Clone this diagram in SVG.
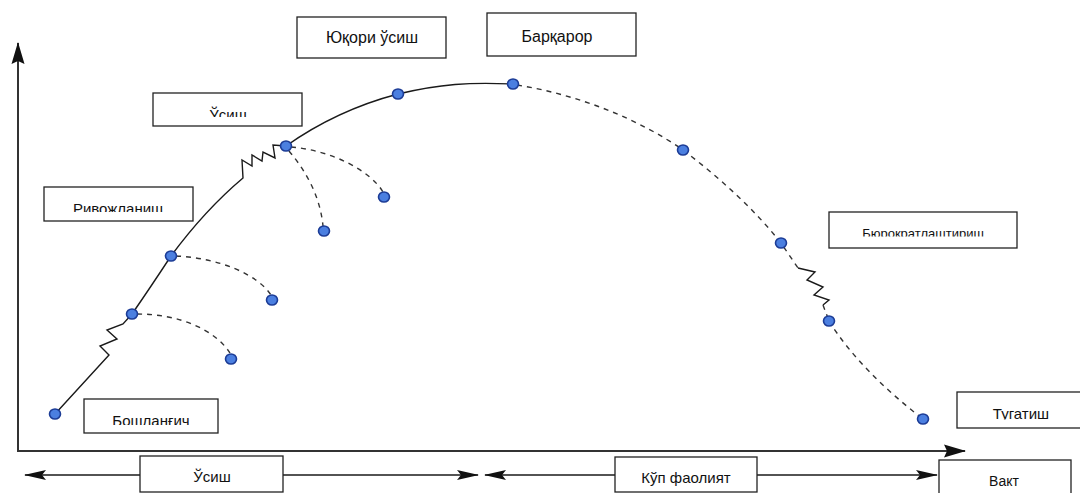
<svg xmlns="http://www.w3.org/2000/svg" width="1080" height="493" viewBox="0 0 1080 493">
<style>
.box{fill:#fff;stroke:#222;stroke-width:1.3}
.t{font-family:"Liberation Sans",Arial,sans-serif;font-size:15px;fill:#111;text-anchor:middle}
.axis{stroke:#333;stroke-width:2;fill:none}
.sol{stroke:#1a1a1a;stroke-width:1.4;fill:none}
.dash{stroke:#333;stroke-width:1.4;fill:none;stroke-dasharray:5 5}
.dot{fill:#4b7fe0;stroke:#1c3c96;stroke-width:1.6}
</style>
<defs>
<marker id="ah" viewBox="0 0 22 12" refX="21" refY="6" markerWidth="22" markerHeight="12" markerUnits="userSpaceOnUse" orient="auto-start-reverse">
<path d="M0,1 L22,6 L0,11 L4,6 Z" fill="#111"/>
</marker>
<marker id="ahx" viewBox="0 0 22 14" refX="21" refY="7" markerWidth="22" markerHeight="14" markerUnits="userSpaceOnUse" orient="auto">
<path d="M0,0.5 L22,7 L0,13.5 L3,7 Z" fill="#111"/>
</marker>
<clipPath id="c1"><rect x="153" y="93" width="149" height="24"/></clipPath>
<clipPath id="c2"><rect x="44" y="187" width="149" height="25"/></clipPath>
<clipPath id="c3"><rect x="84" y="399" width="134" height="26"/></clipPath>
<clipPath id="c4"><rect x="829" y="212" width="188" height="24.5"/></clipPath>
<clipPath id="c5"><rect x="957" y="392" width="123" height="27.5"/></clipPath>
</defs>
<rect width="1080" height="493" fill="#fff"/>
<g id="connectors">
<line class="axis" x1="18" y1="452" x2="18" y2="43" marker-end="url(#ahx)"/>
<line class="axis" x1="17" y1="451" x2="965" y2="451" marker-end="url(#ahx)"/>
<line class="sol" x1="25" y1="475" x2="478" y2="475" marker-start="url(#ah)" marker-end="url(#ah)"/>
<line class="sol" x1="485" y1="475" x2="937" y2="475" marker-start="url(#ah)" marker-end="url(#ah)"/>
<path class="sol" d="M55,414 L109,355 L100,346 L117,339 L107,330 L123,324 L132,314"/>
<path class="sol" d="M132,314 Q150,288 171,256"/>
<path class="sol" d="M171,256 Q205,210 243,178 L242,160 L252,166 L252,155 L262,161 L263,152 L275,158 L273,145 L286,146"/>
<path class="sol" d="M286,146 C320,122 360,104 398,94 C440,84 470,82 512,84"/>
<path class="dash" d="M517,85 C580,95 640,120 683,150 C720,178 755,210 781,243 L798,268"/>
<path class="sol" d="M798,268 L815,272 L807,280 L823,287 L814,295 L829,300 L823,305"/>
<path class="dash" d="M823,305 L829,321"/>
<path class="dash" d="M829,321 C850,355 885,390 923,419"/>
<path class="dash" d="M137,314 C180,314 215,330 230,353"/>
<path class="dash" d="M176,256 C220,258 258,275 271,295"/>
<path class="dash" d="M291,147 C330,150 370,170 383,192"/>
<path class="dash" d="M289,151 C305,170 320,195 323,226"/>
</g>
<g id="dots">
<ellipse id="p1" class="dot" cx="55" cy="414" rx="5.5" ry="5"/>
<ellipse id="p2" class="dot" cx="132" cy="314" rx="5.5" ry="5"/>
<ellipse id="p3" class="dot" cx="171" cy="256" rx="5.5" ry="5"/>
<ellipse id="p4" class="dot" cx="286" cy="146" rx="5.5" ry="5"/>
<ellipse id="p5" class="dot" cx="398" cy="94" rx="5.5" ry="5"/>
<ellipse id="p6" class="dot" cx="513" cy="84" rx="5.5" ry="5"/>
<ellipse id="b1" class="dot" cx="231" cy="359" rx="5.5" ry="5"/>
<ellipse id="b2" class="dot" cx="272" cy="300" rx="5.5" ry="5"/>
<ellipse id="b3" class="dot" cx="324" cy="231" rx="5.5" ry="5"/>
<ellipse id="b4" class="dot" cx="384" cy="197" rx="5.5" ry="5"/>
<ellipse id="d1" class="dot" cx="683" cy="150" rx="5.5" ry="5"/>
<ellipse id="d2" class="dot" cx="781" cy="243" rx="5.5" ry="5"/>
<ellipse id="d3" class="dot" cx="829" cy="321" rx="5.5" ry="5"/>
<ellipse id="d4" class="dot" cx="923" cy="419" rx="5.5" ry="5"/>
</g>
<g id="n-yuqori"><rect class="box" x="297" y="17" width="149" height="41"/><text class="t" x="372" y="43" style="font-size:16px">Юқори ўсиш</text></g>
<g id="n-barqaror"><rect class="box" x="487" y="13" width="149" height="43"/><text class="t" x="557" y="42" style="font-size:16px">Барқарор</text></g>
<g id="n-usish-top"><rect class="box" x="153" y="93" width="149" height="33"/><text class="t" x="228" y="120" clip-path="url(#c1)">Ўсиш</text></g>
<g id="n-rivozh"><rect class="box" x="44" y="187" width="149" height="34"/><text class="t" x="118" y="214" clip-path="url(#c2)">Ривожланиш</text></g>
<g id="n-boshl"><rect class="box" x="84" y="399" width="134" height="34"/><text class="t" x="151" y="426" clip-path="url(#c3)">Бошланғич</text></g>
<g id="n-byurok"><rect class="box" x="829" y="212" width="188" height="36"/><text class="t" x="923" y="238" style="font-size:13px" clip-path="url(#c4)">Бюрократлаштириш</text></g>
<g id="n-tugatish"><rect class="box" x="957" y="392" width="130" height="36"/><text class="t" x="1021" y="419" clip-path="url(#c5)">Тугатиш</text></g>
<g id="n-usish-bot"><rect class="box" x="140" y="456" width="143" height="36"/><text class="t" x="212" y="482">Ўсиш</text></g>
<g id="n-kup"><rect class="box" x="615" y="457" width="142" height="35"/><text class="t" x="686" y="483">Кўп фаолият</text></g>
<g id="n-vakt"><rect class="box" x="939" y="460" width="132" height="40"/><text class="t" x="1004" y="486" style="font-size:14px">Вакт</text></g>
</svg>
